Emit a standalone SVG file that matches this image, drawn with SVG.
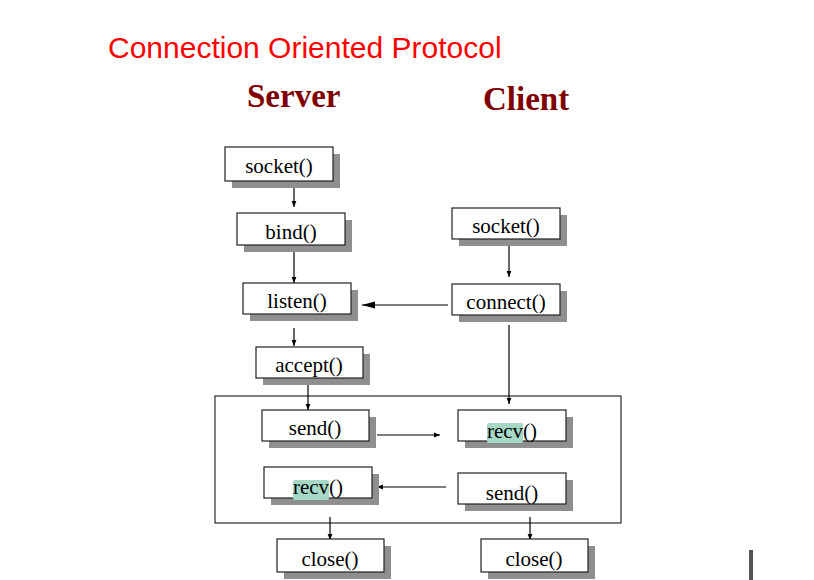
<svg xmlns="http://www.w3.org/2000/svg" width="814" height="580" viewBox="0 0 814 580">
<defs>
<style>
.box{fill:#fff;stroke:#222;stroke-width:1.2}
.sh{fill:#8f8f8f}
.lbl{font-family:"Liberation Serif","Times New Roman",serif;font-size:21px;fill:#000;text-anchor:middle}
.hl{fill:#a6d8c6}
.ln{stroke:#000;stroke-width:1.2;fill:none}
.hd{font-family:"Liberation Serif","Times New Roman",serif;font-weight:bold;font-size:33px;fill:#800000}
</style>
<marker id="ah" viewBox="0 0 10 10" refX="10" refY="5" markerWidth="6" markerHeight="6" markerUnits="userSpaceOnUse" orient="auto"><path d="M0,1 L10,5 L0,9 z" fill="#000"/></marker>
<marker id="ahL" viewBox="0 0 10 10" refX="10" refY="5" markerWidth="13" markerHeight="9" markerUnits="userSpaceOnUse" orient="auto" preserveAspectRatio="none"><path d="M0,1 L10,5 L0,9 z" fill="#000"/></marker>
</defs>
<rect width="814" height="580" fill="#fff"/>
<text x="108" y="58" font-family="'Liberation Sans',Arial,sans-serif" font-size="30" fill="#ff0000">Connection Oriented Protocol</text>
<text class="hd" x="247" y="107">Server</text>
<text class="hd" x="483" y="110">Client</text>

<g id="connectors">
<line class="ln" x1="294" y1="181" x2="294" y2="207" marker-end="url(#ah)"/>
<line class="ln" x1="294" y1="245" x2="294" y2="283" marker-end="url(#ah)"/>
<line class="ln" x1="294" y1="328" x2="294" y2="346" marker-end="url(#ah)"/>
<line class="ln" x1="509" y1="246" x2="509" y2="277" marker-end="url(#ah)"/>
<line class="ln" x1="448" y1="305" x2="362" y2="305" marker-end="url(#ahL)"/>
<line class="ln" x1="509" y1="325" x2="509" y2="404" marker-end="url(#ah)"/>
<line class="ln" x1="308" y1="378" x2="308" y2="410" marker-end="url(#ah)"/>
<line class="ln" x1="377" y1="435" x2="440" y2="435" marker-end="url(#ah)"/>
<line class="ln" x1="446" y1="487" x2="377" y2="487" marker-end="url(#ah)"/>
<line class="ln" x1="330" y1="517" x2="330" y2="540" marker-end="url(#ah)"/>
<line class="ln" x1="530" y1="517" x2="530" y2="540" marker-end="url(#ah)"/>
</g>

<rect id="frame" x="215" y="396" width="406" height="127" fill="none" stroke="#000" stroke-width="1"/>

<g id="s_socket"><rect class="sh" x="232" y="154" width="108" height="34"/><rect class="box" x="225" y="147" width="108" height="34"/><text class="lbl" x="279" y="173">socket()</text></g>
<g id="s_bind"><rect class="sh" x="244" y="220" width="108" height="32"/><rect class="box" x="237" y="213" width="108" height="32"/><text class="lbl" x="291" y="239">bind()</text></g>
<g id="s_listen"><rect class="sh" x="250" y="290" width="108" height="31"/><rect class="box" x="243" y="283" width="108" height="31"/><text class="lbl" x="297" y="308">listen()</text></g>
<g id="s_accept"><rect class="sh" x="263" y="354" width="107" height="31"/><rect class="box" x="256" y="347" width="107" height="31"/><text class="lbl" x="309" y="372">accept()</text></g>
<g id="c_socket"><rect class="sh" x="459" y="215" width="108" height="31"/><rect class="box" x="452" y="208" width="108" height="31"/><text class="lbl" x="506" y="233">socket()</text></g>
<g id="c_connect"><rect class="sh" x="459" y="291" width="108" height="31"/><rect class="box" x="452" y="284" width="108" height="31"/><text class="lbl" x="506" y="309">connect()</text></g>
<g id="s_send"><rect class="sh" x="269" y="417" width="107" height="31"/><rect class="box" x="262" y="410" width="107" height="31"/><text class="lbl" x="315" y="435">send()</text></g>
<g id="c_recv"><rect class="sh" x="465" y="417" width="108" height="31"/><rect class="box" x="458" y="410" width="108" height="31"/><rect class="hl" x="487" y="423" width="36" height="20" rx="2"/><text class="lbl" x="512" y="438">recv()</text></g>
<g id="s_recv"><rect class="sh" x="271" y="474" width="108" height="31"/><rect class="box" x="264" y="467" width="108" height="31"/><rect class="hl" x="293" y="480" width="36" height="20" rx="2"/><text class="lbl" x="318" y="494">recv()</text></g>
<g id="c_send"><rect class="sh" x="465" y="480" width="108" height="31"/><rect class="box" x="458" y="473" width="108" height="31"/><text class="lbl" x="512" y="500">send()</text></g>
<g id="s_close"><rect class="sh" x="284" y="546" width="107" height="33"/><rect class="box" x="277" y="539" width="107" height="33"/><text class="lbl" x="330" y="566">close()</text></g>
<g id="c_close"><rect class="sh" x="488" y="546" width="107" height="33"/><rect class="box" x="481" y="539" width="107" height="33"/><text class="lbl" x="534" y="566">close()</text></g>

<rect x="749" y="550" width="4" height="30" fill="#555"/>
</svg>
